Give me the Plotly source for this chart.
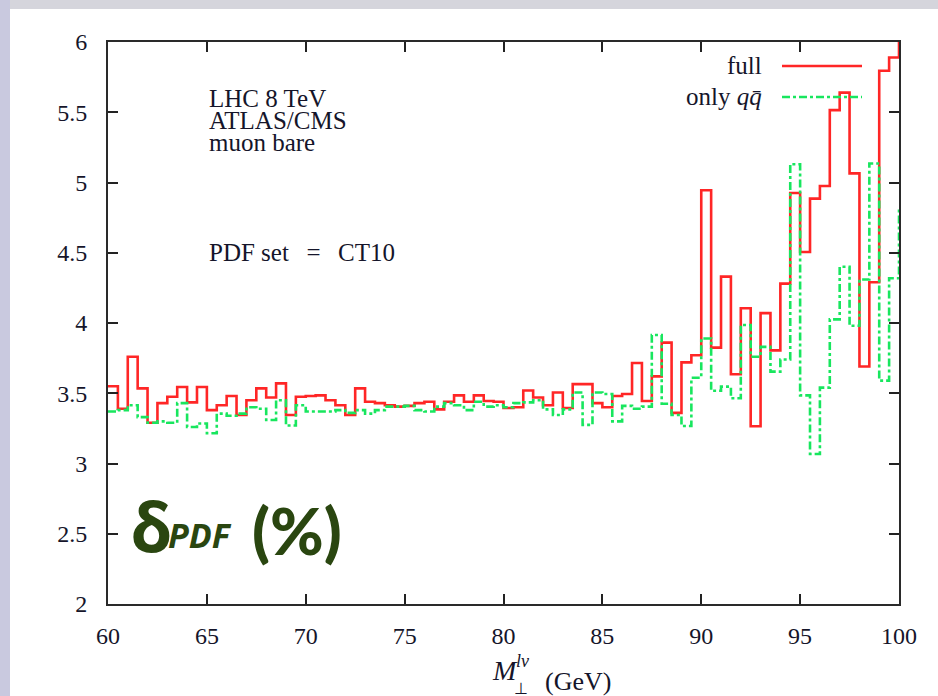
import numpy as np
import plotly.graph_objects as go

# ---------------- data ----------------
bin_lo, bin_hi, bin_w = 60.0, 100.0, 0.5
mass_edges = np.arange(bin_lo, bin_hi + bin_w / 2, bin_w)  # 81 bin edges

full = [3.55, 3.39, 3.76, 3.535, 3.29, 3.43, 3.475, 3.545, 3.435, 3.545,
        3.38, 3.415, 3.48, 3.345, 3.45, 3.535, 3.47, 3.57, 3.345, 3.475,
        3.48, 3.485, 3.45, 3.415, 3.345, 3.535, 3.44, 3.43, 3.415, 3.405,
        3.41, 3.43, 3.44, 3.385, 3.44, 3.485, 3.44, 3.485, 3.445, 3.44,
        3.395, 3.40, 3.52, 3.47, 3.415, 3.505, 3.395, 3.565, 3.565, 3.43,
        3.40, 3.48, 3.495, 3.715, 3.445, 3.62, 3.86, 3.36, 3.72, 3.77,
        4.945, 3.825, 4.33, 3.635, 4.105, 3.265, 4.07, 3.805, 4.28, 4.925,
        4.505, 4.885, 4.975, 5.515, 5.64, 5.065, 3.69, 4.29, 5.795, 5.89]
full_next = 6.2   # first bin beyond 100 GeV (only its edge is visible)

only_qq = [3.37, 3.38, 3.415, 3.33, 3.29, 3.30, 3.29, 3.43, 3.26, 3.285,
           3.215, 3.355, 3.34, 3.355, 3.40, 3.39, 3.31, 3.45, 3.27, 3.415,
           3.37, 3.37, 3.37, 3.38, 3.36, 3.38, 3.355, 3.38, 3.405, 3.405,
           3.41, 3.38, 3.37, 3.405, 3.43, 3.415, 3.38, 3.44, 3.405, 3.415,
           3.40, 3.43, 3.435, 3.45, 3.385, 3.345, 3.385, 3.505, 3.275, 3.505,
           3.495, 3.30, 3.41, 3.39, 3.405, 3.915, 3.425, 3.345, 3.267, 3.61,
           3.89, 3.518, 3.547, 3.464, 3.986, 3.76, 3.83, 3.654, 3.74, 5.13,
           3.485, 3.068, 3.54, 4.026, 4.40, 3.98, 4.31, 5.135, 3.59, 4.318]
only_qq_next = 4.83

x_ticks = [60, 65, 70, 75, 80, 85, 90, 95, 100]
y_ticks = [2, 2.5, 3, 3.5, 4, 4.5, 5, 5.5, 6]

RED = "#ff2626"
GREEN = "#18e65e"
TXT = "#15152a"
SERIF = "Liberation Serif"
DASH = "8px,3px,3px,3px"

# plot area in pixels
L, R, T, B = 108, 899, 42, 604
W, H = 938, 696


def px(xp):
    return (xp - L) / (R - L)


def py(yp):
    return (B - yp) / (B - T)


fig = go.Figure()
fig.add_trace(go.Scatter(
    x=mass_edges, y=full + [full_next], mode="lines",
    line=dict(shape="hv", color=RED, width=2.6), name="full",
    showlegend=False, hoverinfo="skip"))
fig.add_trace(go.Scatter(
    x=mass_edges, y=only_qq + [only_qq_next], mode="lines",
    line=dict(shape="hv", color=GREEN, width=2.6, dash=DASH),
    name="only qq", showlegend=False, hoverinfo="skip"))

axis_common = dict(
    showgrid=False, zeroline=False, showline=True, linecolor="#2a2a2a",
    linewidth=2, mirror="ticks", ticks="inside", ticklen=10, tickwidth=1.5,
    tickcolor="#222222", tickfont=dict(family=SERIF, size=24, color=TXT))

fig.update_xaxes(range=[bin_lo, bin_hi], tickvals=x_ticks,
                 ticklabelstandoff=9, **axis_common)
fig.update_yaxes(range=[y_ticks[0], y_ticks[-1]], tickvals=y_ticks,
                 ticklabelstandoff=14, **axis_common)

ann = []


def text(x, y, s, size=25, xanchor="left", color=TXT, family=SERIF,
         yanchor="middle", weight="normal"):
    ann.append(dict(x=px(x), y=py(y), xref="paper", yref="paper", text=s,
                    showarrow=False, xanchor=xanchor, yanchor=yanchor,
                    font=dict(family=family, size=size, color=color,
                              weight=weight)))


text(207, 98, "LHC 8 TeV")
text(207, 120, "ATLAS/CMS")
text(207, 142, "muon bare")
text(207, 253, "PDF set\u2002\u2009=\u2002\u2009CT10")
text(764, 66, "full", xanchor="right")
text(764, 97, "only <i>q</i><i>q̄</i>", xanchor="right")

# x-axis title
text(490, 670, "<i>M</i>", size=28)
text(514, 661, "<i>lν</i>", size=18)
text(512, 688, "⊥", size=16)
text(543, 681, "(GeV)", size=26)

# big label  δ_PDF (%)
GRN_DARK = "#2a4610"
text(129, 525, "δ", size=68, family="Noto Sans", color=GRN_DARK,
     weight="bold")
text(166, 535, "<i>PDF</i>", size=34, family="Noto Sans", color=GRN_DARK,
     weight="bold")
text(250, 530, "(%)", size=65, family="Lato", color=GRN_DARK, weight=900)

shapes = [
    dict(type="line", xref="paper", yref="paper", x0=px(782), x1=px(862),
         y0=py(66), y1=py(66), line=dict(color=RED, width=2.6)),
    dict(type="line", xref="paper", yref="paper", x0=px(782), x1=px(862),
         y0=py(97), y1=py(97), line=dict(color=GREEN, width=2.6, dash=DASH)),
    # slide frame strips
    dict(type="rect", xref="paper", yref="paper", x0=px(0), x1=px(W),
         y0=py(0), y1=py(9), fillcolor="#d5d5dc", line=dict(width=0),
         layer="below"),
    dict(type="rect", xref="paper", yref="paper", x0=px(0), x1=px(10),
         y0=py(0), y1=py(H), fillcolor="#c9c9df", line=dict(width=0),
         layer="below"),
]

fig.update_layout(
    width=W, height=H, autosize=False,
    margin=dict(l=L, r=W - R, t=T, b=H - B, pad=0),
    paper_bgcolor="white", plot_bgcolor="white",
    annotations=ann, shapes=shapes, showlegend=False)

fig.write_html("out.html")
